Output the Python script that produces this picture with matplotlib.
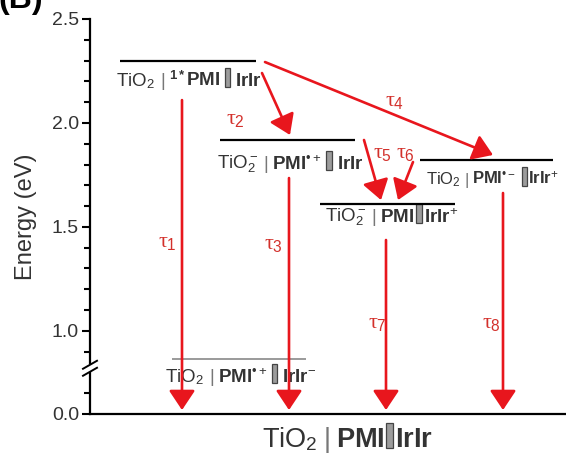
import matplotlib

matplotlib.use("Agg")
import matplotlib.pyplot as plt
import matplotlib.transforms as mtransforms
from matplotlib.patches import Rectangle

plt.rcParams["font.family"] = ["Liberation Sans", "DejaVu Sans"]
plt.rcParams["mathtext.fontset"] = "custom"
plt.rcParams["mathtext.rm"] = "Liberation Sans"
plt.rcParams["mathtext.bf"] = "Liberation Sans:bold"
plt.rcParams["mathtext.it"] = "Liberation Serif"

RED = "#e8161d"
TAU_RED = "#d3302b"
TEXT = "#333333"

# energy axis: plot coordinate 0.6 stands for 0.0 eV (broken axis below 1.0)
y_ticks = [0.6, 1.0, 1.5, 2.0, 2.5]
y_tick_labels = ["0.0", "1.0", "1.5", "2.0", "2.5"]
y_minor = [0.7, 0.9, 1.1, 1.2, 1.3, 1.4, 1.6, 1.7, 1.8, 1.9, 2.1, 2.2, 2.3, 2.4]
ground = 0.6

# state energies (plot coordinate)
level_energy = [2.30, 1.92, 1.82, 1.61, 0.865]
level_color = ["black", "black", "black", "black", "#9a9a9a"]
level_labels = [
    ["TiO$_2$", "|", r"$^{\mathbf{1*}}\mathbf{PMI}$", "box", r"$\mathbf{IrIr}$"],
    ["TiO$_2^-$", "|", r"$\mathbf{PMI}^{•+}$", "box", r"$\mathbf{IrIr}$"],
    ["TiO$_2$", "|", r"$\mathbf{PMI}^{•-}$", "box", r"$\mathbf{IrIr}^{+}$"],
    ["TiO$_2^-$", "|", r"$\mathbf{PMI}$", "box", r"$\mathbf{IrIr}^{+}$"],
    ["TiO$_2$", "|", r"$\mathbf{PMI}^{•+}$", "box", r"$\mathbf{IrIr}^{-}$"],
]
ground_label = ["TiO$_2$", "|", r"$\mathbf{PMI}$", "box", r"$\mathbf{IrIr}$"]

# transitions between states (plot coordinate of arrow tail and head)
tau_names = [r"$\tau_1$", r"$\tau_2$", r"$\tau_3$", r"$\tau_4$",
             r"$\tau_5$", r"$\tau_6$", r"$\tau_7$", r"$\tau_8$"]
tau_start = [2.11, 2.24, 1.735, 2.293, 1.918, 1.812, 1.437, 1.663]
tau_end = [0.619, 1.942, 0.619, 1.846, 1.629, 1.629, 0.619, 0.619]

# layout (x in pixels from the axis origin)
level_x = [(30, 166), (130, 265), (330, 463), (230, 365), (82, 216)]
label_pos = [(26, 2.178), (127, 1.779), (336, 1.702), (235, 1.524), (75, 0.754)]
label_size = [13.5, 13.5, 12, 13.5, 13.5]
label_gaps = [[0, 5, 4, 5, 5], [0, 5, 4, 5, 5], [0, 4, 3, 6, 1], [0, 5, 4, 2, 2], [0, 5, 4, 5, 5]]
tau_x = [(92, 92), (172, 200), (199, 199), (175, 403), (274, 291), (323, 308), (296, 296), (413, 413)]
tau_text = [(77, 1.43), (145, 2.02), (183, 1.42), (305, 2.11), (292, 1.86), (315, 1.86), (287, 1.04), (401, 1.04)]


def chain_label(ax, x, y, pieces, gaps, size, box_h):
    renderer = ax.figure.canvas.get_renderer()
    px, py = ax.transData.transform((x, y))
    ident = mtransforms.IdentityTransform()
    for piece, gap in zip(pieces, gaps):
        px += gap
        if piece == "box":
            ax.add_patch(Rectangle((px, py - 1), box_h * 0.28, box_h, transform=ident,
                                   facecolor="#9c9c9c", edgecolor="#444444", lw=0.9, clip_on=False))
            px += box_h * 0.28
            continue
        color = "#777777" if piece == "|" else TEXT
        t = ax.text(px, py, piece, transform=ident, fontsize=size, color=color,
                    va="baseline", ha="left", clip_on=False)
        px += t.get_window_extent(renderer).width


def main():
    fig = plt.figure(figsize=(5.66, 4.57), dpi=100)
    ax = fig.add_axes([90 / 566, 1 - 414 / 457, 476 / 566, 395 / 457])
    ax.set_xlim(0, 476)
    ax.set_ylim(ground, 2.5)
    for side in ("top", "right"):
        ax.spines[side].set_visible(False)
    ax.spines["left"].set_linewidth(1.6)
    ax.spines["bottom"].set_linewidth(1.6)
    ax.set_xticks([])
    ax.set_yticks(y_ticks)
    ax.set_yticklabels(y_tick_labels)
    ax.set_yticks(y_minor, minor=True)
    ax.tick_params(axis="y", which="major", length=6, width=1.5, labelsize=14, labelcolor=TEXT, pad=2)
    ax.tick_params(axis="y", which="minor", length=4, width=1.5)

    for (x0, x1), e, c in zip(level_x, level_energy, level_color):
        ax.plot([x0, x1], [e, e], color=c, lw=1.6 if c == "black" else 1.4, solid_capstyle="butt")

    for pieces, (lx, ly), size, gaps in zip(level_labels, label_pos, label_size, label_gaps):
        chain_label(ax, lx, ly, pieces, gaps, size, 19)
    chain_label(ax, 172, 0.441, ground_label, [0, 6, 5, 2, 2], 19.5, 25)

    for (x0, x1), y0, y1 in zip(tau_x, tau_start, tau_end):
        ax.annotate("", xy=(x1, y1), xytext=(x0, y0),
                    arrowprops=dict(arrowstyle="-|>,head_length=0.6,head_width=0.4",
                                    color=RED, lw=1.9, mutation_scale=20, shrinkA=0, shrinkB=0))
    for name, (tx, ty) in zip(tau_names, tau_text):
        ax.text(tx, ty, name, fontsize=16, color=TAU_RED, ha="center", va="center")

    # axis break marks
    bx, by = ax.transData.transform((0, 0.82))
    ident = mtransforms.IdentityTransform()
    ax.add_patch(Rectangle((bx - 3, by - 4), 6, 8, transform=ident, facecolor="white",
                           edgecolor="none", clip_on=False, zorder=5))
    for dy in (-3.5, 3.5):
        ax.plot([bx - 7, bx + 7], [by + dy - 4, by + dy + 4], transform=ident, color="black",
                lw=1.4, clip_on=False, zorder=6)

    fig.text(26 / 566, 1 - 217 / 457, "Energy (eV)", rotation=90, fontsize=17, color=TEXT,
             ha="center", va="center")
    fig.text(-2 / 566, 1 - 8 / 457, "(B)", fontsize=23, fontweight="bold", ha="left", va="baseline")

    fig.savefig("out.png", dpi=100)
    plt.close(fig)


if __name__ == "__main__":
    main()
